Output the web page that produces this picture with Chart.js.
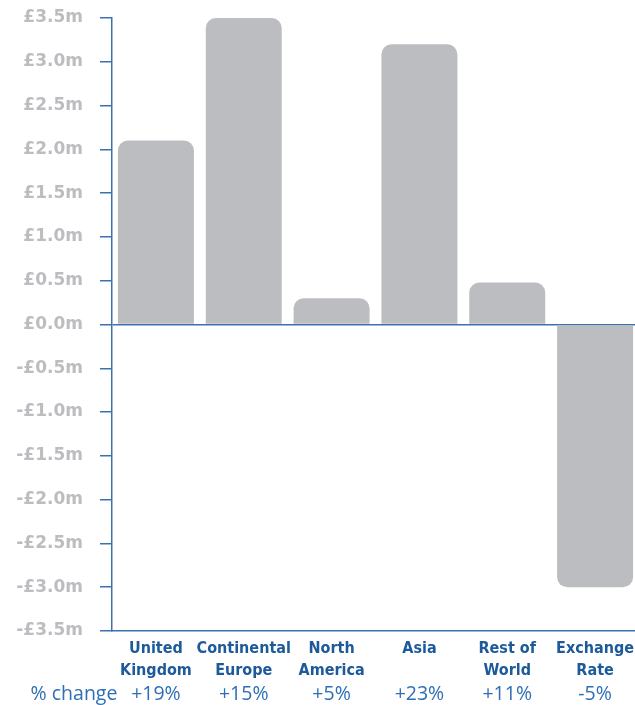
<!DOCTYPE html>
<html>
<head>
<meta charset="utf-8">
<script src="https://cdn.jsdelivr.net/npm/chart.js@4/dist/chart.umd.min.js"></script>
<style>
  html, body { margin: 0; padding: 0; background: #fff; overflow: hidden; }
  #wrap { width: 639px; height: 705px; position: relative; }
</style>
</head>
<body>
<div id="wrap"><canvas id="myChart"></canvas></div>
<script>
const regions = [["United", "Kingdom"], ["Continental", "Europe"], ["North", "America"], ["Asia"], ["Rest of", "World"], ["Exchange", "Rate"]];
const growth = [2.1, 3.5, 0.3, 3.2, 0.48, -3.0];
const pctChange = ["+19%", "+15%", "+5%", "+23%", "+11%", "-5%"];

const axisBlue = "#3b72ab";
const labelBlue = "#1d5a99";
const pctBlue = "#2f6fb5";
const barGrey = "#bcbdc0";

// "% change" caption to the left of the percentage row
const pctCaption = {
  id: "pctCaption",
  afterDraw(chart) {
    const s = chart.scales.x2;
    const ctx = chart.ctx;
    ctx.save();
    ctx.font = "19.5px 'Open Sans'";
    ctx.fillStyle = pctBlue;
    ctx.textAlign = "center";
    ctx.textBaseline = "middle";
    ctx.fillText("% change", 74, (s.top + s.bottom) / 2 + 2);
    ctx.restore();
  },
};

const data = {
  labels: regions,
  datasets: [
    {
      data: growth,
      backgroundColor: barGrey,
      borderRadius: 10,
      borderSkipped: "start",
      barPercentage: 0.865,
      categoryPercentage: 1,
      xAxisID: "x",
    },
  ],
};

const config = {
  type: "bar",
  data,
  options: {
    responsive: true,
    maintainAspectRatio: false,
    animation: false,
    layout: { padding: 0 },
    plugins: {
      legend: { display: false },
      tooltip: { enabled: false },
    },
    scales: {
      y: {
        min: -3.5,
        max: 3.5,
        afterFit: (s) => {
          s.width = 112;
          s.paddingTop = 18;
          s.paddingBottom = 0;
        },
        ticks: {
          stepSize: 0.5,
          padding: 17,
          color: barGrey,
          font: { family: "'DejaVu Sans'", weight: "bold", size: 17 },
          callback: (v) => (v < 0 ? "-£" : "£") + Math.abs(v).toFixed(1) + "m",
        },
        grid: {
          drawOnChartArea: true,
          color: (c) => (c.tick && c.tick.value === 0 ? axisBlue : "rgba(0,0,0,0)"),
          tickColor: axisBlue,
          tickLength: 12,
          lineWidth: 1.5,
        },
        border: { color: axisBlue, width: 1.5 },
      },
      x: {
        position: "bottom",
        weight: 0,
        afterFit: (s) => { s.height = 49; },
        ticks: {
          padding: -1,
          color: labelBlue,
          maxRotation: 0,
          autoSkip: false,
          font: { family: "'DejaVu Sans Condensed', 'DejaVu Sans'", weight: "bold condensed", size: 16, lineHeight: 1.35 },
        },
        grid: { display: false },
        border: { color: axisBlue, width: 1.5 },
      },
      x2: {
        type: "category",
        labels: pctChange,
        position: "bottom",
        weight: 1,
        afterFit: (s) => { s.height = 25; },
        ticks: {
          padding: -5,
          color: pctBlue,
          maxRotation: 0,
          autoSkip: false,
          font: { family: "'Open Sans'", size: 19.5 },
        },
        grid: { display: false },
        border: { display: false },
      },
    },
  },
  plugins: [pctCaption],
};

var myChart = new Chart(document.getElementById("myChart"), config);
</script>
</body>
</html>
